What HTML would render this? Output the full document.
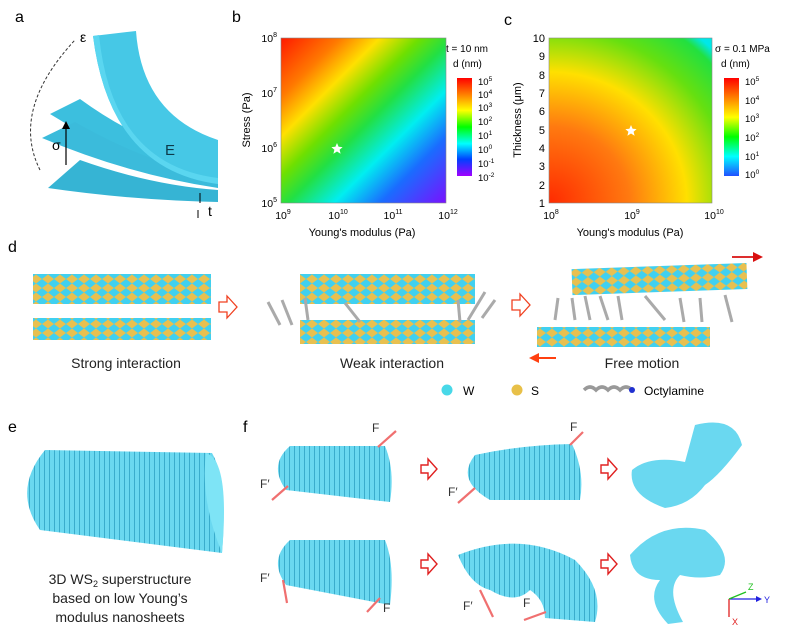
<!DOCTYPE html>
<html><head><meta charset="utf-8"><style>
html,body{margin:0;padding:0;background:#fff}
svg{display:block;font-family:"Liberation Sans",sans-serif}
</style></head><body>
<svg width="800" height="639" viewBox="0 0 800 639" xmlns="http://www.w3.org/2000/svg">
<defs>
<linearGradient id="gb" x1="281" y1="38" x2="446" y2="203" gradientUnits="userSpaceOnUse">
<stop offset="0" stop-color="#ff1a00"/><stop offset="0.18" stop-color="#ff7a00"/><stop offset="0.3" stop-color="#ffe000"/><stop offset="0.42" stop-color="#6fe000"/><stop offset="0.52" stop-color="#22e044"/><stop offset="0.66" stop-color="#00eef0"/><stop offset="0.8" stop-color="#1a6cff"/><stop offset="1" stop-color="#7a10ff"/></linearGradient>
<radialGradient id="gc" cx="549" cy="203" r="230" gradientUnits="userSpaceOnUse" gradientTransform="translate(549 203) scale(1 0.95) translate(-549 -203)">
<stop offset="0" stop-color="#ff2a00"/><stop offset="0.35" stop-color="#ff7a10"/><stop offset="0.6" stop-color="#ffe000"/><stop offset="0.8" stop-color="#66e010"/><stop offset="0.95" stop-color="#22e040"/><stop offset="1" stop-color="#00e8e8"/></radialGradient>
<linearGradient id="cbb" x1="0" y1="0" x2="0" y2="1"><stop offset="0" stop-color="#ff0000"/><stop offset="0.17" stop-color="#ff8000"/><stop offset="0.33" stop-color="#ffff00"/><stop offset="0.5" stop-color="#00ff00"/><stop offset="0.67" stop-color="#00ffff"/><stop offset="0.83" stop-color="#0040ff"/><stop offset="1" stop-color="#a000ff"/></linearGradient>
<linearGradient id="cbc" x1="0" y1="0" x2="0" y2="1"><stop offset="0" stop-color="#ff0000"/><stop offset="0.2" stop-color="#ff8000"/><stop offset="0.4" stop-color="#ffff00"/><stop offset="0.6" stop-color="#00ff00"/><stop offset="0.8" stop-color="#00ffff"/><stop offset="1" stop-color="#2050ff"/></linearGradient>
<pattern id="stripe" width="5" height="10" patternUnits="userSpaceOnUse"><rect width="5" height="10" fill="#6ad8f0"/><rect x="4" width="1" height="10" fill="#3aaccc"/></pattern>
<pattern id="mol" width="12" height="9" patternUnits="userSpaceOnUse"><rect width="12" height="9" fill="#e8c050"/><path d="M0,4.5 L6,0 L12,4.5 L6,9Z" fill="#40d0f0"/></pattern>
</defs>

<!-- panel a -->
<text x="15" y="22" font-size="16">a</text>
<path d="M50,114 L80,99 Q150,150 218,158 L218,170 Q140,170 50,114Z" fill="#3cbfde"/>
<path d="M48,188 L80,160 Q150,185 218,190 L218,202 Q130,200 48,188Z" fill="#36b4d4"/>
<path d="M42,138 L75,122 Q150,165 218,176 L218,188 Q130,175 42,138Z" fill="#3bbbdb"/>
<path d="M93,36 L136,31 Q142,115 218,140 L218,184 Q110,170 93,36Z" fill="#46c8e6"/>
<path d="M93,36 L99,35 Q112,165 218,178 L218,184 Q110,170 93,36Z" fill="#5ad6f0"/>
<path d="M40,170 Q10,110 75,40" fill="none" stroke="#333" stroke-dasharray="3,2" stroke-width="1"/>
<text x="80" y="42" font-size="14">ε</text>
<line x1="66" y1="165" x2="66" y2="126" stroke="#000" stroke-width="1.2"/><path d="M62,129 L66,121 L70,129Z"/>
<text x="52" y="150" font-size="14">σ</text>
<text x="165" y="155" font-size="15" fill="#0d3a4a">E</text>
<text x="208" y="216" font-size="14">t</text>
<line x1="200" y1="193" x2="200" y2="203" stroke="#000"/><line x1="198" y1="218" x2="198" y2="210" stroke="#000"/>

<!-- panel b -->
<text x="232" y="22" font-size="16">b</text>
<rect x="281" y="38" width="165" height="165" fill="url(#gb)"/>
<rect x="281" y="38" width="165" height="165" fill="none" stroke="#888" stroke-width="0.6"/>
<path d="M337,143 l1.6,3.8 4,.3 -3,2.6 1,4 -3.6,-2.2 -3.6,2.2 1,-4 -3,-2.6 4,-.3z" fill="#fff"/>
<g font-size="10.5" text-anchor="end">
<text x="277" y="42">10<tspan font-size="7" dy="-5">8</tspan></text>
<text x="277" y="97">10<tspan font-size="7" dy="-5">7</tspan></text>
<text x="277" y="152">10<tspan font-size="7" dy="-5">6</tspan></text>
<text x="277" y="207">10<tspan font-size="7" dy="-5">5</tspan></text>
</g>
<g font-size="10.5" text-anchor="middle">
<text x="283" y="219">10<tspan font-size="7" dy="-5">9</tspan></text>
<text x="338" y="219">10<tspan font-size="7" dy="-5">10</tspan></text>
<text x="393" y="219">10<tspan font-size="7" dy="-5">11</tspan></text>
<text x="448" y="219">10<tspan font-size="7" dy="-5">12</tspan></text>
<text x="362" y="236" font-size="11">Young's modulus (Pa)</text>
<text transform="translate(250 120) rotate(-90)" font-size="11">Stress (Pa)</text>
</g>
<text x="446" y="52" font-size="10">t = 10 nm</text>
<text x="453" y="67" font-size="10">d (nm)</text>
<rect x="457" y="78" width="15" height="98" fill="url(#cbb)"/>
<g font-size="9.5">
<text x="478" y="85">10<tspan font-size="6.5" dy="-4">5</tspan></text>
<text x="478" y="98">10<tspan font-size="6.5" dy="-4">4</tspan></text>
<text x="478" y="111">10<tspan font-size="6.5" dy="-4">3</tspan></text>
<text x="478" y="125">10<tspan font-size="6.5" dy="-4">2</tspan></text>
<text x="478" y="139">10<tspan font-size="6.5" dy="-4">1</tspan></text>
<text x="478" y="153">10<tspan font-size="6.5" dy="-4">0</tspan></text>
<text x="478" y="167">10<tspan font-size="6.5" dy="-4">-1</tspan></text>
<text x="478" y="181">10<tspan font-size="6.5" dy="-4">-2</tspan></text>
</g>

<!-- panel c -->
<text x="504" y="25" font-size="16">c</text>
<rect x="549" y="38" width="163" height="165" fill="url(#gc)"/>
<rect x="549" y="38" width="163" height="165" fill="none" stroke="#888" stroke-width="0.6"/>
<path d="M631,125 l1.6,3.8 4,.3 -3,2.6 1,4 -3.6,-2.2 -3.6,2.2 1,-4 -3,-2.6 4,-.3z" fill="#fff"/>
<g font-size="11" text-anchor="end">
<text x="545" y="42">10</text><text x="545" y="60">9</text><text x="545" y="79">8</text><text x="545" y="97">7</text><text x="545" y="115">6</text><text x="545" y="134">5</text><text x="545" y="152">4</text><text x="545" y="170">3</text><text x="545" y="189">2</text><text x="545" y="207">1</text>
</g>
<g font-size="10.5" text-anchor="middle">
<text x="551" y="219">10<tspan font-size="7" dy="-5">8</tspan></text>
<text x="632" y="219">10<tspan font-size="7" dy="-5">9</tspan></text>
<text x="714" y="219">10<tspan font-size="7" dy="-5">10</tspan></text>
<text x="630" y="236" font-size="11">Young's modulus (Pa)</text>
<text transform="translate(521 120) rotate(-90)" font-size="11">Thickness (μm)</text>
</g>
<text x="715" y="52" font-size="10">σ = 0.1 MPa</text>
<text x="721" y="67" font-size="10">d (nm)</text>
<rect x="724" y="78" width="15" height="98" fill="url(#cbc)"/>
<g font-size="9.5">
<text x="745" y="85">10<tspan font-size="6.5" dy="-4">5</tspan></text>
<text x="745" y="104">10<tspan font-size="6.5" dy="-4">4</tspan></text>
<text x="745" y="122">10<tspan font-size="6.5" dy="-4">3</tspan></text>
<text x="745" y="141">10<tspan font-size="6.5" dy="-4">2</tspan></text>
<text x="745" y="160">10<tspan font-size="6.5" dy="-4">1</tspan></text>
<text x="745" y="178">10<tspan font-size="6.5" dy="-4">0</tspan></text>
</g>

<!-- panel d -->
<text x="8" y="252" font-size="16">d</text>
<rect x="33" y="274" width="178" height="30" fill="url(#mol)"/>
<rect x="33" y="318" width="178" height="22" fill="url(#mol)"/>
<path d="M219,302 h8 v-6 l10,11 -10,11 v-6 h-8z" fill="#fff" stroke="#f04020" stroke-width="1.3"/>
<rect x="300" y="274" width="175" height="30" fill="url(#mol)"/>
<rect x="300" y="320" width="175" height="24" fill="url(#mol)"/>
<g stroke="#aaa" stroke-width="3">
<line x1="268" y1="302" x2="280" y2="325"/><line x1="282" y1="300" x2="292" y2="325"/><line x1="305" y1="298" x2="308" y2="320"/><line x1="345" y1="303" x2="360" y2="322"/><line x1="458" y1="300" x2="460" y2="322"/><line x1="485" y1="292" x2="468" y2="320"/><line x1="495" y1="300" x2="482" y2="318"/>
</g>
<path d="M512,300 h8 v-6 l10,11 -10,11 v-6 h-8z" fill="#fff" stroke="#f04020" stroke-width="1.3"/>
<rect x="572" y="266" width="175" height="26" fill="url(#mol)" transform="rotate(-2 660 280)"/>
<rect x="537" y="327" width="173" height="20" fill="url(#mol)"/>
<g stroke="#aaa" stroke-width="3">
<line x1="558" y1="298" x2="555" y2="320"/><line x1="572" y1="298" x2="575" y2="320"/><line x1="585" y1="296" x2="590" y2="320"/><line x1="600" y1="296" x2="608" y2="320"/><line x1="618" y1="296" x2="622" y2="320"/><line x1="645" y1="296" x2="665" y2="320"/><line x1="680" y1="298" x2="684" y2="322"/><line x1="700" y1="298" x2="702" y2="322"/><line x1="725" y1="295" x2="732" y2="322"/>
</g>
<line x1="732" y1="257" x2="755" y2="257" stroke="#d81010" stroke-width="1.8"/><path d="M753,252 L763,257 753,262Z" fill="#d81010"/>
<line x1="538" y1="358" x2="556" y2="358" stroke="#ff4010" stroke-width="2"/><path d="M539,353 L529,358 539,363Z" fill="#ff4010"/>
<g font-size="14" text-anchor="middle" fill="#222">
<text x="126" y="368">Strong interaction</text>
<text x="392" y="368">Weak interaction</text>
<text x="642" y="368">Free motion</text>
</g>
<circle cx="447" cy="390" r="5.5" fill="#48d8e8"/><text x="463" y="395" font-size="12">W</text>
<circle cx="517" cy="390" r="5.5" fill="#e8c048"/><text x="531" y="395" font-size="12">S</text>
<path d="M584,390 q6,-6 12,0 q6,-6 12,0 q6,-6 12,0 q6,-6 12,0" fill="none" stroke="#999" stroke-width="3.5"/><circle cx="632" cy="390" r="3" fill="#2030d0"/>
<text x="644" y="395" font-size="12">Octylamine</text>

<!-- panel e -->
<text x="8" y="432" font-size="16">e</text>
<path d="M45,450 L212,453 Q228,480 222,553 L40,530 Q12,490 45,450Z" fill="url(#stripe)"/>
<path d="M206,453 Q230,460 222,553 Q200,500 206,453Z" fill="#7ee4f6"/>
<g font-size="14" text-anchor="middle" fill="#222">
<text x="120" y="584">3D WS<tspan font-size="9" dy="3">2</tspan><tspan dy="-3"> superstructure</tspan></text>
<text x="120" y="603">based on low Young’s</text>
<text x="120" y="622">modulus nanosheets</text>
</g>

<!-- panel f -->
<text x="243" y="432" font-size="16">f</text>
<path d="M290,446 L385,446 Q395,470 390,502 L286,490 Q268,465 290,446Z" fill="url(#stripe)"/>
<path d="M290,540 L385,540 Q395,565 390,605 L286,585 Q268,560 290,540Z" fill="url(#stripe)"/>
<path d="M475,455 Q520,445 572,444 Q585,472 580,500 L490,500 Q455,480 475,455Z" fill="url(#stripe)"/>
<path d="M458,555 Q520,530 575,560 Q605,590 595,622 L545,618 Q545,600 530,590 Q515,605 490,590 Q470,585 458,555Z" fill="url(#stripe)"/>
<path d="M632,470 Q650,455 685,462 L695,425 Q735,415 742,445 Q720,475 705,485 Q690,505 665,508 Q628,495 632,470Z" fill="#6ad8f0"/>
<path d="M630,555 Q660,520 705,530 Q735,555 720,575 Q700,580 680,575 Q665,590 683,622 L668,624 Q645,600 660,580 Q632,580 630,555Z" fill="#6ad8f0"/>
<g fill="#fff" stroke="#e02020" stroke-width="1.4">
<path d="M421,465 h7 v-6 l9,10 -9,10 v-6 h-7z"/><path d="M601,465 h7 v-6 l9,10 -9,10 v-6 h-7z"/>
<path d="M421,560 h7 v-6 l9,10 -9,10 v-6 h-7z"/><path d="M601,560 h7 v-6 l9,10 -9,10 v-6 h-7z"/>
</g>
<g stroke="#f07070" stroke-width="2.2">
<line x1="378" y1="447" x2="396" y2="431"/><line x1="288" y1="486" x2="272" y2="500"/>
<line x1="283" y1="580" x2="287" y2="603"/><line x1="380" y1="598" x2="367" y2="612"/>
<line x1="570" y1="445" x2="583" y2="432"/><line x1="475" y1="488" x2="458" y2="503"/>
<line x1="480" y1="590" x2="493" y2="617"/><line x1="546" y1="612" x2="524" y2="620"/>
</g>
<g font-size="12" fill="#333">
<text x="372" y="432">F</text><text x="260" y="488">F′</text>
<text x="260" y="582">F′</text><text x="383" y="612">F</text>
<text x="570" y="431">F</text><text x="448" y="496">F′</text>
<text x="463" y="610">F′</text><text x="523" y="607">F</text>
</g>
<line x1="729" y1="599" x2="758" y2="599" stroke="#2020e0" stroke-width="1.3"/><path d="M756,596 L762,599 756,602Z" fill="#2020e0"/><text x="764" y="603" font-size="9" fill="#2020e0">Y</text>
<line x1="729" y1="599" x2="729" y2="617" stroke="#e02020" stroke-width="1.3"/><text x="732" y="625" font-size="9" fill="#e02020">X</text>
<line x1="729" y1="599" x2="746" y2="592" stroke="#20c020" stroke-width="1.3"/><text x="748" y="590" font-size="9" fill="#20c020">Z</text>
</svg>
</body></html>
